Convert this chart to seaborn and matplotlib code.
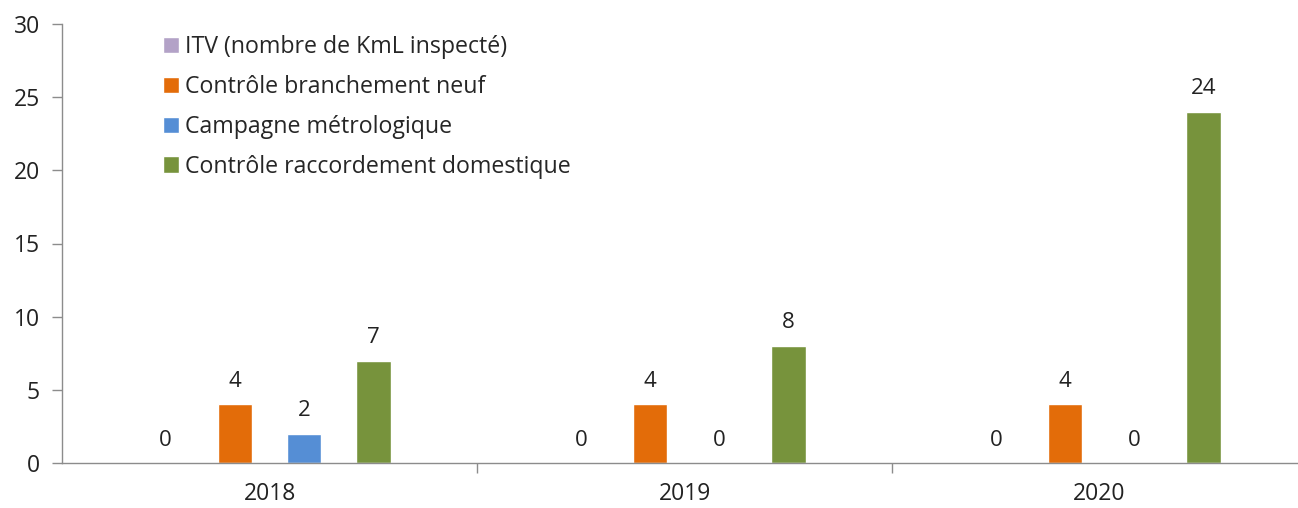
import seaborn as sns
import matplotlib.pyplot as plt
import pandas as pd

# -----------------------------------
# Data
# -----------------------------------
years = ["2018", "2019", "2020"]
series = [
    "ITV (nombre de KmL inspecté)",
    "Contrôle branchement neuf",
    "Campagne métrologique",
    "Contrôle raccordement domestique",
]
itv = [0, 0, 0]
branchement = [4, 4, 4]
campagne = [2, 0, 0]
raccordement = [7, 8, 24]

colors = ["#B3A2C7", "#E36C09", "#558ED5", "#77933C"]

rows = []
for name, vals in zip(series, [itv, branchement, campagne, raccordement]):
    for y, v in zip(years, vals):
        rows.append({"annee": y, "serie": name, "valeur": v})
df = pd.DataFrame(rows)

sns.set_theme(style="white")
plt.rcParams["font.family"] = ["Open Sans", "DejaVu Sans"]

# -----------------------------------
# Figure
# -----------------------------------
fig = plt.figure(figsize=(12.98, 5.08), dpi=100)
ax = fig.add_axes([62 / 1298, 45 / 508, (1298 - 62) / 1298, (463 - 24) / 508])

sns.barplot(
    data=df,
    x="annee",
    y="valeur",
    hue="serie",
    hue_order=series,
    palette=colors,
    width=0.667,
    gap=0.5,
    saturation=1,
    ax=ax,
)

for cont in ax.containers:
    ax.bar_label(cont, fmt="%g", padding=9, fontsize=16, color="#222222")

# -----------------------------------
# Axes styling
# -----------------------------------
ax.set_ylim(0, 30)
ax.set_yticks(range(0, 31, 5))
ax.set_xlim(-0.5, 2.478)
ax.set_xlabel("")
ax.set_ylabel("")

for side in ["top", "right"]:
    ax.spines[side].set_visible(False)
for side in ["left", "bottom"]:
    ax.spines[side].set_color("#8c8c8c")
    ax.spines[side].set_linewidth(1)

ax.tick_params(axis="y", left=True, length=7, width=1, color="#8c8c8c",
               labelsize=16.5, pad=9, labelcolor="#222222")
ax.tick_params(axis="x", bottom=False, labelsize=16.5, pad=8, labelcolor="#222222")
ax.set_xticks([0.5, 1.5], minor=True)
ax.tick_params(axis="x", which="minor", bottom=True, length=7, width=1, color="#8c8c8c")

# -----------------------------------
# Legend
# -----------------------------------
ax.legend(
    loc="upper left",
    bbox_to_anchor=(0.0817, 0.974),
    frameon=False,
    fontsize=16.7,
    handlelength=0.7,
    handleheight=0.7,
    handletextpad=0.25,
    labelspacing=0.68,
    borderpad=0.0,
    borderaxespad=0.0,
)

plt.savefig("out.png", dpi=100)
